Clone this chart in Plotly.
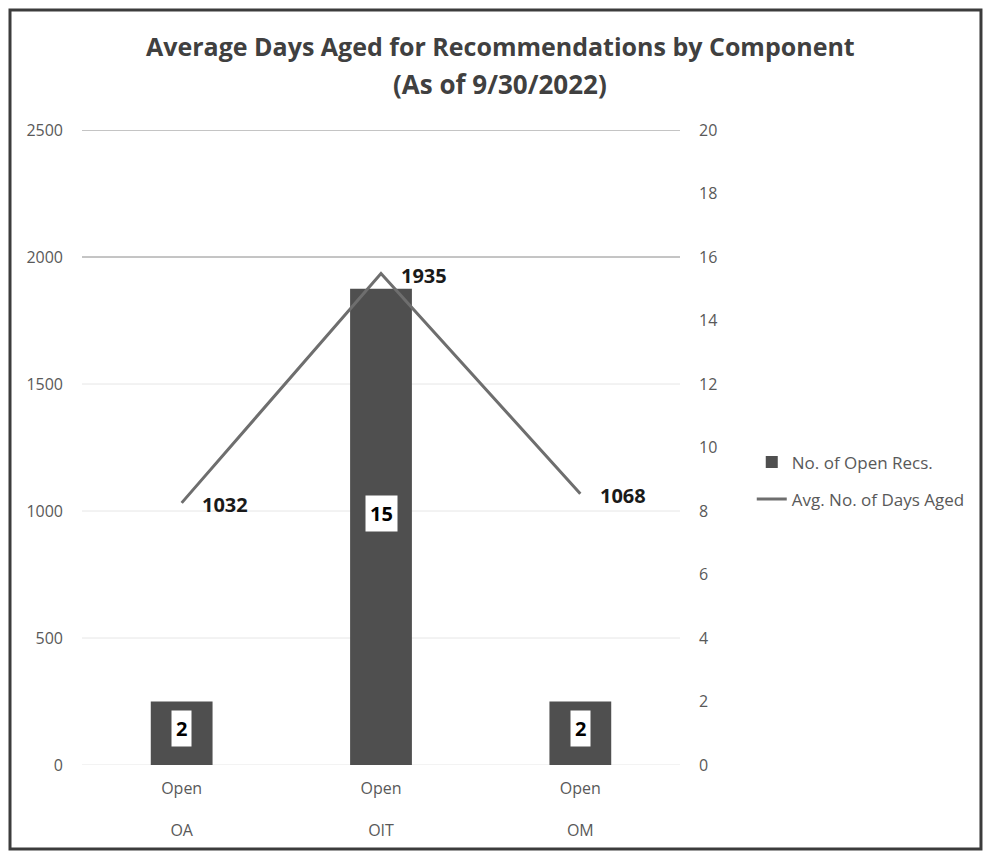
import plotly.graph_objects as go

# Components and their status level
components = ["OA", "OIT", "OM"]
status = ["Open", "Open", "Open"]

# Series values
open_recs = [2, 15, 2]             # No. of Open Recs. (right axis)
avg_days_aged = [1032, 1935, 1068]  # Avg. No. of Days Aged (left axis)

# Axis ticks
days_ticks = [0, 500, 1000, 1500, 2000, 2500]
recs_ticks = [0, 2, 4, 6, 8, 10, 12, 14, 16, 18, 20]

tick_text = [f"{s}<br><br>{c}" for s, c in zip(status, components)]

AXIS_FONT = dict(family="Open Sans, sans-serif", size=16, color="#595959")
LABEL_FONT = dict(family="Open Sans, sans-serif", size=20, color="#1a1a1a")

fig = go.Figure()

fig.add_trace(go.Bar(
    x=components, y=open_recs, name="No. of Open Recs.",
    marker=dict(color="#4f4f4f", line=dict(width=0)),
    width=0.31, yaxis="y", legendgroup="a",
    hoverinfo="x+y",
))

fig.add_trace(go.Scatter(
    x=components, y=avg_days_aged, name="Avg. No. of Days Aged",
    mode="lines", line=dict(color="#6e6e6e", width=3),
    yaxis="y2", legendgroup="b",
))

annotations = []

# Count labels in white boxes near the middle of each bar
for c, v in zip(components, open_recs):
    annotations.append(dict(
        x=c, y=v / 2, xref="x", yref="y", text=f"<b>{v}</b>",
        showarrow=False, font=dict(LABEL_FONT, color="#000000"),
        bgcolor="#ffffff", borderpad=4, yshift=13 if v > 5 else 5,
    ))

# Day labels to the right of each line point
for c, v in zip(components, avg_days_aged):
    annotations.append(dict(
        x=c, y=v, xref="x", yref="y2", text=f"<b>{v}</b>",
        showarrow=False, xanchor="left", yanchor="middle",
        xshift=18, yshift=-2, font=LABEL_FONT,
    ))

# Two-line title
TITLE_FONT = dict(family="Open Sans, sans-serif", size=25, color="#404040")
annotations.append(dict(
    x=0.699, y=1.1323, xref="paper", yref="paper", showarrow=False,
    text="<b>Average Days Aged for Recommendations by Component</b>",
    font=TITLE_FONT, xanchor="center", yanchor="middle",
))
annotations.append(dict(
    x=0.699, y=1.0724, xref="paper", yref="paper", showarrow=False,
    text="<b>(As of 9/30/2022)</b>",
    font=dict(TITLE_FONT, size=26), xanchor="center", yanchor="middle",
))

shapes = []
# Horizontal gridlines at the left-axis ticks
for t in days_ticks:
    shapes.append(dict(
        type="line", xref="paper", yref="y2", x0=0, x1=1, y0=t, y1=t,
        line=dict(color="#8a8a8a" if t >= 2000 else "#e6e6e6", width=1),
        layer="below",
    ))
# Chart frame
shapes.append(dict(
    type="rect", xref="paper", yref="paper",
    x0=-0.1204, x1=1.5033, y0=-0.1323, y1=1.189,
    line=dict(color="#3c3c3c", width=3), layer="below",
))

fig.update_layout(
    width=987, height=853,
    margin=dict(l=82, r=307, t=130, b=88),
    paper_bgcolor="#ffffff", plot_bgcolor="#ffffff",
    xaxis=dict(
        type="category", tickvals=components, ticktext=tick_text,
        range=[-0.5, 2.5], showgrid=False, showline=False, zeroline=False,
        tickfont=AXIS_FONT, ticks="", ticklabelstandoff=12,
    ),
    yaxis=dict(
        side="right", range=[0, 20], tickvals=recs_ticks,
        showgrid=False, zeroline=False, showline=False,
        tickfont=AXIS_FONT, ticklabelstandoff=18,
    ),
    yaxis2=dict(
        side="left", overlaying="y", range=[0, 2500], tickvals=days_ticks,
        showgrid=False, zeroline=False, showline=False,
        tickfont=AXIS_FONT, ticklabelstandoff=18,
    ),
    legend=dict(
        x=1.12, y=0.505, xanchor="left", yanchor="top",
        font=dict(family="Open Sans, sans-serif", size=17, color="#595959"),
        tracegroupgap=12, bgcolor="rgba(0,0,0,0)",
    ),
    showlegend=True,
    annotations=annotations,
    shapes=shapes,
)

fig.write_html("out.html")
